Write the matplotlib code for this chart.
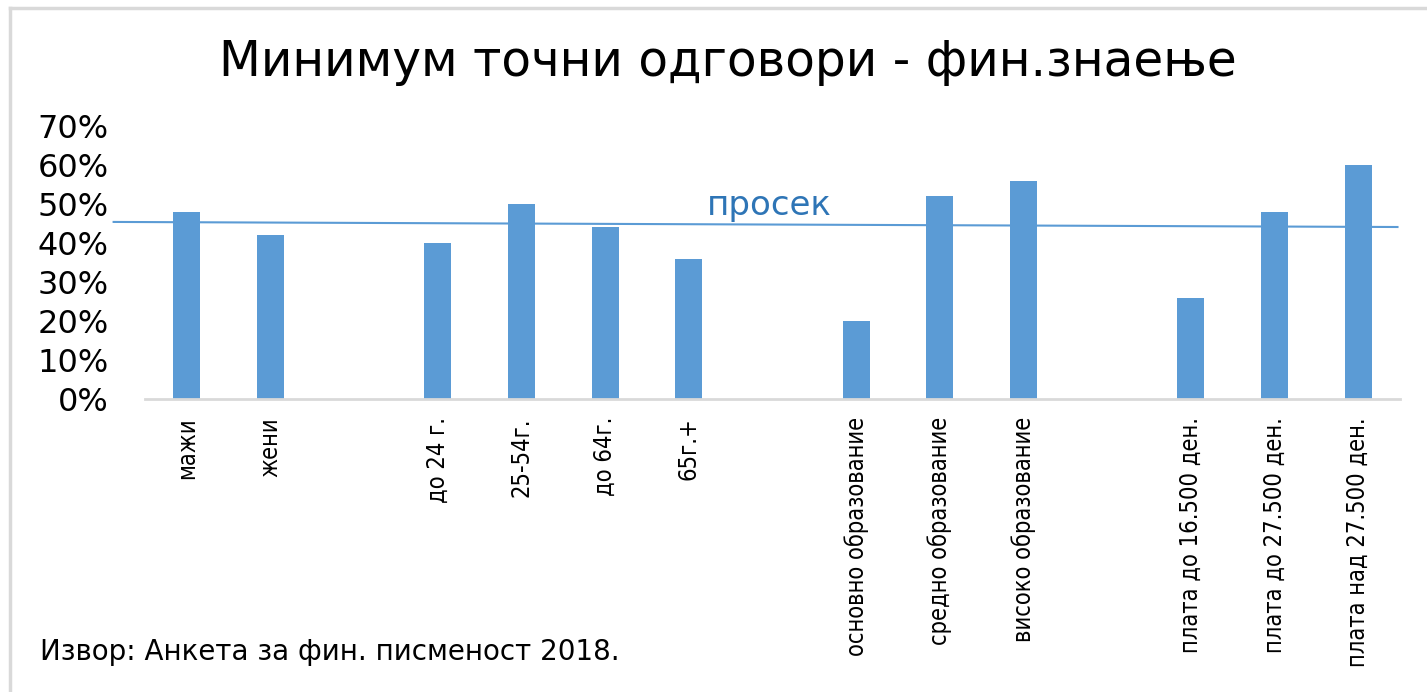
import numpy as np
import matplotlib.pyplot as plt
from matplotlib.transforms import blended_transform_factory
from matplotlib.lines import Line2D

categories = ['мажи', 'жени', '',
              'до 24 г.', '25-54г.', 'до 64г.', '65г.+', '',
              'основно образование', 'средно образование', 'високо образование', '',
              'плата до 16.500 ден.', 'плата до 27.500 ден.', 'плата над 27.500 ден.']
values = [0.48, 0.42, np.nan,
          0.40, 0.50, 0.44, 0.36, np.nan,
          0.20, 0.52, 0.56, np.nan,
          0.26, 0.48, 0.60]
average_start = 0.454
average_end = 0.441
yticks = [0, 0.1, 0.2, 0.3, 0.4, 0.5, 0.6, 0.7]

title = 'Минимум точни одговори - фин.знаење'
source = 'Извор: Анкета за фин. писменост 2018.'

BAR = '#5B9BD5'

fig = plt.figure(figsize=(14.27, 6.92), dpi=100)
ax = fig.add_axes([145 / 1427, 1 - 399 / 692, (1400 - 145) / 1427, (399 - 126) / 692])

x = np.arange(len(categories))
ax.bar(x, values, width=0.32, color=BAR, zorder=2)

# average line, runs a bit past the axis on the left
tr = blended_transform_factory(ax.transAxes, ax.transData)
ax.plot([-0.025, 0.998], [average_start, average_end], color=BAR, lw=1.5,
        transform=tr, clip_on=False, zorder=3)
ax.text(6.21, 0.471, 'просек', color='#2E75B6', fontsize=24.5, ha='left',
        va='baseline', zorder=4)

ax.set_xlim(-0.5, len(categories) - 0.5)
ax.set_ylim(0, 0.7)
ax.set_yticks(yticks)
ax.set_yticklabels([f'{int(round(v * 100))}%' for v in yticks], fontsize=23)
ax.set_xticks(x)
ax.set_xticklabels(categories, rotation=90, fontsize=17, family='DejaVu Sans',
                   fontstretch='condensed', va='top')
ax.tick_params(axis='both', length=0)
ax.tick_params(axis='y', pad=26)
ax.tick_params(axis='x', pad=13)

for s in ['top', 'right', 'left']:
    ax.spines[s].set_visible(False)
ax.spines['bottom'].set_color('#D9D9D9')
ax.spines['bottom'].set_linewidth(2)

fig.text(728 / 1427, 1 - 62 / 692, title, fontsize=35, ha='center', va='center')
fig.text(40 / 1427, 1 - 652 / 692, source, fontsize=20, ha='left', va='center')

# light grey frame (left and top edges visible)
fig.add_artist(Line2D([10 / 1427, 10 / 1427], [0, 1 - 8 / 692], color='#D9D9D9', lw=2.5))
fig.add_artist(Line2D([10 / 1427, 1], [1 - 8 / 692, 1 - 8 / 692], color='#D9D9D9', lw=2.5))

fig.savefig('out.png', dpi=100)
